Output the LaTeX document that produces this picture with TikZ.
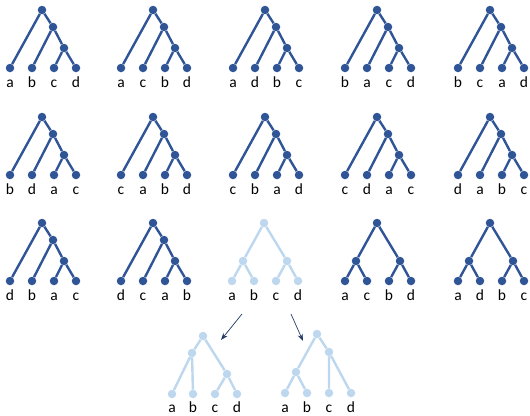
\documentclass[tikz,border=0pt]{standalone}
\usepackage{fontspec}
\setmainfont{Carlito}
\usetikzlibrary{arrows.meta}
\definecolor{dk}{RGB}{47,85,151}
\definecolor{lt}{RGB}{189,215,238}
\definecolor{nav}{RGB}{31,56,100}
\tikzset{
  dot/.style={circle,fill=#1,inner sep=0pt,minimum size=8.5pt},
  tedge/.style={draw=#1,line width=2.4pt},
  lab/.style={anchor=base,font=\fontsize{15.5}{15.5}\selectfont,inner sep=0pt},
  arr/.style={draw=nav,line width=0.7pt,-{Stealth[length=7pt,width=5pt]}}
}
\newcommand{\labrow}[6]{% name, y, l1..l4 (uses leaf names)
  \node[lab] (#1la) at (#1a |- 0,#2) {#3};
  \node[lab] (#1lb) at (#1b |- 0,#2) {#4};
  \node[lab] (#1lc) at (#1c |- 0,#2) {#5};
  \node[lab] (#1ld) at (#1d |- 0,#2) {#6};
}
\newcommand{\cattree}[8]{% name, x, y, colour, labels
  \begin{scope}[shift={(#2,#3)}]
    \node[dot=#4] (#1r) at (0,0) {};
    \node[dot=#4] (#1m) at (11,17) {};
    \node[dot=#4] (#1n) at (22,38) {};
    \node[dot=#4] (#1a) at (-32,58) {};
    \node[dot=#4] (#1b) at (-10,58) {};
    \node[dot=#4] (#1c) at (12,58) {};
    \node[dot=#4] (#1d) at (34,58) {};
    \path[tedge=#4] (#1r) -- (#1a) (#1r) -- (#1m) (#1m) -- (#1b)
      (#1m) -- (#1n) (#1n) -- (#1c) (#1n) -- (#1d);
    \labrow{#1}{77}{#5}{#6}{#7}{#8}
  \end{scope}}
\newcommand{\baltree}[8]{% name, x, y, colour, labels
  \begin{scope}[shift={(#2,#3)}]
    \node[dot=#4] (#1r) at (0,0) {};
    \node[dot=#4] (#1L) at (-21,38) {};
    \node[dot=#4] (#1R) at (23,38) {};
    \node[dot=#4] (#1a) at (-32,58) {};
    \node[dot=#4] (#1b) at (-10,58) {};
    \node[dot=#4] (#1c) at (12,58) {};
    \node[dot=#4] (#1d) at (34,58) {};
    \path[tedge=#4] (#1r) -- (#1L) (#1r) -- (#1R) (#1L) -- (#1a)
      (#1L) -- (#1b) (#1R) -- (#1c) (#1R) -- (#1d);
    \labrow{#1}{77}{#5}{#6}{#7}{#8}
  \end{scope}}
\begin{document}
\begin{tikzpicture}[x=1pt,y=-1pt]
\useasboundingbox (0,0) rectangle (530,415);
% row 1
\cattree{p}{42}{10}{dk}{a}{b}{c}{d}
\cattree{q}{153}{10}{dk}{a}{c}{b}{d}
\cattree{s}{265}{10}{dk}{a}{d}{b}{c}
\cattree{t}{377}{10}{dk}{b}{a}{c}{d}
\cattree{u}{490}{10}{dk}{b}{c}{a}{d}
% row 2
\cattree{pp}{42}{117}{dk}{b}{d}{a}{c}
\cattree{qq}{153}{117}{dk}{c}{a}{b}{d}
\cattree{ss}{265}{117}{dk}{c}{b}{a}{d}
\cattree{tt}{377}{117}{dk}{c}{d}{a}{c}
\cattree{uu}{490}{117}{dk}{d}{a}{b}{c}
% row 3
\cattree{ppp}{42}{223}{dk}{d}{b}{a}{c}
\cattree{qqq}{153}{223}{dk}{d}{c}{a}{b}
\baltree{sss}{264}{223}{lt}{a}{b}{c}{d}
\baltree{ttt}{377}{223}{dk}{a}{c}{b}{d}
\baltree{uuu}{490}{223}{dk}{a}{d}{b}{c}
% bottom left
\node[dot=lt] (vr) at (203,336) {};
\node[dot=lt] (vL) at (192,353) {};
\node[dot=lt] (vR) at (227,374) {};
\node[dot=lt] (va) at (172,394) {};
\node[dot=lt] (vb) at (193,394) {};
\node[dot=lt] (vc) at (215,394) {};
\node[dot=lt] (vd) at (237,394) {};
\path[tedge=lt] (vr) -- (vL) (vL) -- (va) (vL) -- (vb)
  (vr) -- (vR) (vR) -- (vc) (vR) -- (vd);
\labrow{v}{412.5}{a}{b}{c}{d}
% bottom right
\node[dot=lt] (wr) at (317,334) {};
\node[dot=lt] (wR) at (329,352) {};
\node[dot=lt] (wL) at (296,372) {};
\node[dot=lt] (wa) at (285,393) {};
\node[dot=lt] (wb) at (307,393) {};
\node[dot=lt] (wc) at (329,393) {};
\node[dot=lt] (wd) at (351,393) {};
\path[tedge=lt] (wr) -- (wL) (wL) -- (wa) (wL) -- (wb)
  (wr) -- (wR) (wR) -- (wc) (wR) -- (wd);
\labrow{w}{412}{a}{b}{c}{d}
% arrows
\coordinate (a1s) at (242,314);
\coordinate (a1e) at (221,340);
\coordinate (a2s) at (291,314);
\coordinate (a2e) at (303,341);
\draw[arr] (a1s) -- (a1e);
\draw[arr] (a2s) -- (a2e);
\end{tikzpicture}
\end{document}
